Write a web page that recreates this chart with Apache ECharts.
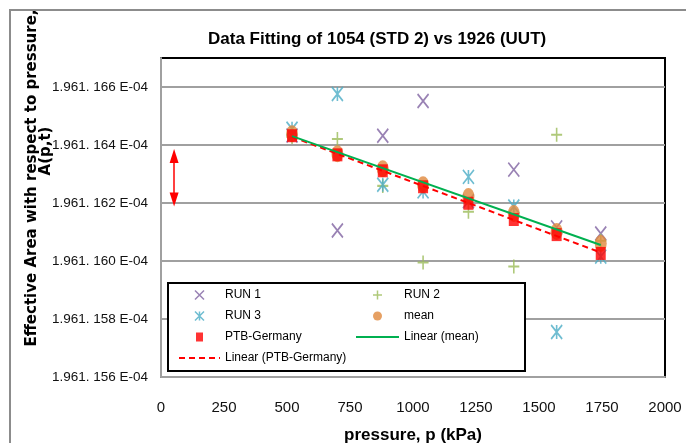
<!DOCTYPE html>
<html><head><meta charset="utf-8">
<script src="https://cdn.jsdelivr.net/npm/echarts@6/dist/echarts.min.js"></script>
<style>html,body{margin:0;padding:0;background:#fff;overflow:hidden}#c{width:692px;height:443px}</style>
</head><body><div id="c"></div>
<script>
// pressure (kPa)
const pressures = [520, 700, 880, 1040, 1220, 1400, 1570, 1745];
// effective area, in units of 1E-04
const run1 = [1.96116433, 1.96116105, 1.96116432, 1.96116552, 1.96116206, 1.96116315, 1.96116116, 1.96116095];
const run2 = [1.96116428, 1.96116421, 1.96116259, 1.96115995, 1.96116170, 1.96115981, 1.96116435, 1.96116070];
const run3 = [1.96116456, 1.96116576, 1.96116263, 1.96116240, 1.96116290, 1.96116188, 1.96115755, 1.96116015];
const meanVals = [1.96116439, 1.96116370, 1.96116318, 1.96116263, 1.96116222, 1.96116164, 1.96116102, 1.96116060];
const ptbVals = [1.96116432, 1.96116366, 1.96116311, 1.96116256, 1.96116199, 1.96116143, 1.96116091, 1.96116026];
// red double arrow annotation (x, y from, y to)
const arrowX = 52;
const arrowYs = [1.96116362, 1.96116212];
const xTicks = {min: 0, max: 2000, step: 250};
const yTicks = {min: 1.961156, max: 1.961167, step: 0.000002};

const SANS = '"Liberation Sans", Arial, sans-serif';
const C = {r1:'#7f63a1', r2:'#9bbb59', r3:'#4bacc6', mean:'#e0883c', ptb:'#ff0000', lm:'#00b050', lp:'#ff0000'};

function pairs(xs, ys){ return xs.map((x,i)=>[x, ys[i]]); }
function fit(xs, ys){
  const n = xs.length;
  const mx = xs.reduce((a,b)=>a+b,0)/n, my = ys.reduce((a,b)=>a+b,0)/n;
  let sxy=0, sxx=0;
  for (let i=0;i<n;i++){ sxy += (xs[i]-mx)*(ys[i]-my); sxx += (xs[i]-mx)*(xs[i]-mx); }
  const b = sxy/sxx, a = my - b*mx;
  const x0 = Math.min(...xs), x1 = Math.max(...xs);
  return [[x0, a+b*x0],[x1, a+b*x1]];
}
const P_X = 'path://M0,0L10,10M10,0L0,10';
const P_PLUS = 'path://M5,0L5,10M0,5L10,5';
const P_STAR = 'path://M0,0L10,10M10,0L0,10M5,0L5,10';
const P_SQ = 'path://M0,0L7,0L7,9L0,9Z';

const chart = echarts.init(document.getElementById('c'), null, {renderer:'canvas'});
chart.setOption({
  animation: false,
  backgroundColor: '#fff',
  title: {
    text: 'Data Fitting of 1054 (STD 2) vs 1926 (UUT)',
    left: 208, top: 31, padding: 0,
    textStyle: {fontFamily: SANS, fontWeight: 'bold', fontSize: 17, color: '#000'}
  },
  graphic: [
    {type:'line', shape:{x1: 10, y1: 10, x2: 10, y2: 443}, style:{stroke:'#8c8c8c', lineWidth:2}, z:0, silent:true},
    {type:'line', shape:{x1: 9, y1: 10, x2: 686, y2: 10}, style:{stroke:'#8c8c8c', lineWidth:2}, z:0, silent:true},
    {type:'rect', shape:{x: 168, y: 283, width: 357, height: 88}, style:{fill:'#fff', stroke:'#000', lineWidth:2}, z:3, silent:true},
    {type:'text', x: 32, y: 178, rotation: Math.PI/2, style:{text:'Effective Area with respect to pressure,', font:'bold 15px "DejaVu Sans"', fill:'#000', align:'center', verticalAlign:'middle'}, z:5},
    {type:'text', x: 46, y: 151, rotation: Math.PI/2, style:{text:'A(p,t)', font:'bold 15px "DejaVu Sans"', fill:'#000', align:'center', verticalAlign:'middle'}, z:5}
  ],
  grid: {left: 161, right: 27, top: 58, bottom: 66, outerBoundsMode: 'none', containLabel: false,
         show: true, borderColor: '#000', borderWidth: 2, backgroundColor: 'transparent'},
  xAxis: {
    type: 'value', min: xTicks.min, max: xTicks.max, interval: xTicks.step,
    axisLine: {show: true, onZero: false, lineStyle: {color: '#a0a0a0', width: 2}},
    axisTick: {show: false}, splitLine: {show: false},
    axisLabel: {margin: 23, fontSize: 15, fontFamily: SANS, color: '#111', formatter: v => String(v)},
    name: 'pressure, p (kPa)', nameLocation: 'middle', nameGap: 50,
    nameTextStyle: {fontFamily: SANS, fontWeight: 'bold', fontSize: 17, color: '#000'}
  },
  yAxis: {
    type: 'value', min: yTicks.min, max: yTicks.max, interval: yTicks.step,
    axisLine: {show: true, lineStyle: {color: '#a0a0a0', width: 2}},
    axisTick: {show: false},
    splitLine: {show: true, showMaxLine: false, lineStyle: {color: '#a0a0a0', width: 2}},
    axisLabel: {
      showMaxLabel: false, margin: 13, fontSize: 13.5, fontFamily: SANS, color: '#111',
      formatter: v => { const s = v.toFixed(6); return s.slice(0,5) + '. ' + s.slice(5) + ' E-04'; }
    }
  },
  legend: [
    {
      left: 178, top: 288, orient: 'vertical', padding: 0, itemWidth: 41, itemHeight: 9, itemGap: 7,
      textStyle: {fontFamily: SANS, fontSize: 12, color: '#000', lineHeight: 14},
      data: [
        {name:'RUN 1', itemStyle:{color:C.r1, borderColor:C.r1, borderWidth:1.5}},
        {name:'RUN 3', itemStyle:{color:C.r3, borderColor:C.r3, borderWidth:1.5}},
        {name:'PTB-Germany', icon: P_SQ, itemStyle:{color:C.ptb, borderWidth:0}},
        {name:'Linear (PTB-Germany)', itemStyle:{opacity:0}}
      ]
    },
    {
      left: 355, top: 288, orient: 'vertical', padding: 0, itemWidth: 43, itemHeight: 9, itemGap: 7,
      textStyle: {fontFamily: SANS, fontSize: 12, color: '#000', lineHeight: 14},
      data: [
        {name:'RUN 2', itemStyle:{color:C.r2, borderColor:C.r2, borderWidth:1.5}},
        {name:'mean'},
        {name:'Linear (mean)', itemStyle:{opacity:0}}
      ]
    }
  ],
  series: [
    {name:'RUN 1', type:'scatter', data: pairs(pressures, run1), symbol: P_X, symbolSize:[11,14],
     itemStyle:{color:C.r1, borderColor:C.r1, borderWidth:1.8}},
    {name:'RUN 2', type:'scatter', data: pairs(pressures, run2), symbol: P_PLUS, symbolSize:[11,14],
     itemStyle:{color:C.r2, borderColor:C.r2, borderWidth:1.8}},
    {name:'RUN 3', type:'scatter', data: pairs(pressures, run3), symbol: P_STAR, symbolSize:[11,14],
     itemStyle:{color:C.r3, borderColor:C.r3, borderWidth:1.8}},
    {name:'mean', type:'scatter', data: pairs(pressures, meanVals), symbol:'circle', symbolSize:[12,17],
     itemStyle:{color:C.mean}},
    {name:'PTB-Germany', type:'scatter', data: pairs(pressures, ptbVals), symbol:'rect', symbolSize:[10,13],
     itemStyle:{color:C.ptb}},
    {name:'Linear (PTB-Germany)', type:'line', data: fit(pressures, ptbVals), symbol:'none',
     lineStyle:{color:C.lp, width:2, type:[6,4]}, itemStyle:{color:C.lp}},
    {name:'Linear (mean)', type:'line', data: fit(pressures, meanVals), symbol:'none',
     lineStyle:{color:C.lm, width:2}, itemStyle:{color:C.lm}},
    {name:'arrow', type:'line', data: [], markLine: {
      silent: true, animation: false, symbol:['triangle','triangle'], symbolSize:[9,14],
      lineStyle:{color:'#ff0000', width:1.5, type:'solid'}, label:{show:false},
      data: [[{coord:[arrowX, arrowYs[0]]}, {coord:[arrowX, arrowYs[1]]}]]
    }}
  ]
});
</script>
</body></html>
